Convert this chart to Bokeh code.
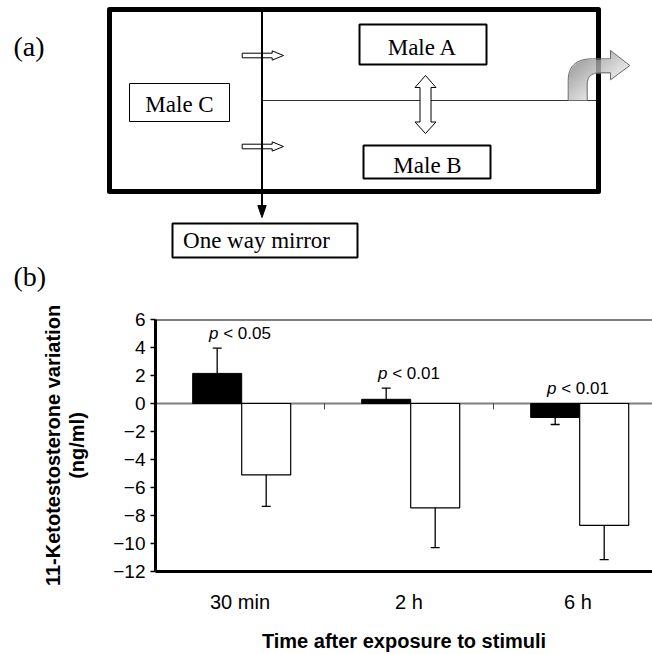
import numpy as np
from bokeh.plotting import figure
from bokeh.models import Range1d, FixedTicker, Span, ColumnDataSource, LinearAxis
from bokeh.core.properties import value
from bokeh.embed import file_html
from bokeh.resources import INLINE

# ---------------- data (panel b) ----------------
categories = ["30 min", "2 h", "6 h"]
dominant_mean = [2.15, 0.3, -1.0]        # black bars
dominant_err = [1.8, 0.8, 0.5]
subordinate_mean = [-5.1, -7.45, -8.7]   # white bars
subordinate_err = [2.25, 2.85, 2.45]
p_values = ["0.05", "0.01", "0.01"]
y_ticks = [-12, -10, -8, -6, -4, -2, 0, 2, 4, 6]

SANS = "Liberation Sans"
SERIF = "Liberation Serif"

# ---------------- panel (a): diagram ----------------
d = figure(width=652, height=300, x_range=Range1d(0, 652), y_range=Range1d(300, 0),
           output_backend="svg", toolbar_location=None, min_border=0,
           x_axis_type=None, y_axis_type=None)
d.outline_line_color = None
d.grid.visible = False

# horizontal partition
d.segment(x0=[262], y0=[100], x1=[598], y1=[100], line_color="#333333", line_width=1)

# small white arrows crossing the mirror
for yy in (55, 146):
    xs = [241.7, 271.7, 271.7, 283, 271.7, 271.7, 241.7]
    ys = [yy - 2.3, yy - 2.3, yy - 4.6, yy, yy + 4.6, yy + 2.3, yy + 2.3]
    d.patch(xs, ys, fill_color="white", line_color="black", line_width=1)

# one-way mirror line with arrow
d.segment(x0=[261.5], y0=[9], x1=[261.5], y1=[206], line_color="black", line_width=2)
d.patch([257.3, 265.7, 261.5], [205, 205, 217], fill_color="black", line_color="black")

# outer tank
d.quad(left=[109], right=[598], top=[9], bottom=[191], fill_color=None,
       line_color="black", line_width=5, line_join="round")

# boxes
d.quad(left=[359, 363, 172], right=[486, 490, 357], top=[24, 145, 223], bottom=[64, 178, 257],
       fill_color="white", line_color="black", line_width=2)
d.quad(left=[129], right=[229], top=[83], bottom=[121], fill_color="white",
       line_color="black", line_width=1)

d.text(x=[422, 427, 179, 256], y=[46.5, 165, 104, 239.5],
       text=["Male A", "Male B", "Male C", "One way mirror"],
       text_font=value(SERIF), text_font_size="23px", text_color="black",
       text_align="center", text_baseline="alphabetic")

# double arrow between A and B
cx = 425
d.patch([cx, cx + 10.5, cx + 5.5, cx + 5.5, cx + 10.5, cx, cx - 10.5, cx - 5.5, cx - 5.5, cx - 10.5],
        [75, 87, 87, 121.5, 121.5, 133, 121.5, 121.5, 87, 87],
        fill_color="white", line_color="black", line_width=1)

# curved outflow arrow (gradient-filled)
def qbez(p0, p1, p2, n=14):
    t = np.linspace(0, 1, n)
    x = (1 - t) ** 2 * p0[0] + 2 * (1 - t) * t * p1[0] + t ** 2 * p2[0]
    y = (1 - t) ** 2 * p0[1] + 2 * (1 - t) * t * p1[1] + t ** 2 * p2[1]
    return list(x), list(y)

ox, oy = qbez((567.7, 80), (567.7, 58.3), (592, 58.3))
ix, iy = qbez((599, 72.3), (586.7, 72.3), (586.7, 84))
cxs = [567.7] + ox + [610, 610, 629.3, 610, 610] + ix + [586.7]
cys = [100] + oy + [58.3, 50, 65, 79.3, 72.3] + iy + [100]

x0i, x1i, y0i, y1i = 566, 631, 49, 101
W, H = (x1i - x0i) * 2, (y1i - y0i) * 2
gx = x0i + (np.arange(W) + 0.5) * (x1i - x0i) / W
gy = y0i + (np.arange(H) + 0.5) * (y1i - y0i) / H
GX, GY = np.meshgrid(gx, gy)
inside = np.zeros(GX.shape, dtype=bool)
px, py = np.array(cxs), np.array(cys)
for k in range(len(px)):
    xa, ya, xb_, yb_ = px[k], py[k], px[k - 1], py[k - 1]
    cond = (ya > GY) != (yb_ > GY)
    xint = (xb_ - xa) * (GY - ya) / np.where(yb_ - ya == 0, 1e-9, yb_ - ya) + xa
    inside ^= cond & (GX < xint)
tt = np.clip(((GX - 567) / 62) * 0.7 + ((GY - 55) / 45) * 0.6, 0, 1)
gray = (115 + 130 * tt).astype(np.uint32)
alpha = np.where(inside, 200, 0).astype(np.uint32)
img = (alpha << 24) | (gray << 16) | (gray << 8) | gray
d.image_rgba(image=[img.astype(np.uint32)], x=x0i, y=y0i, dw=x1i - x0i, dh=y1i - y0i)
d.patch(cxs, cys, fill_color=None, line_color="#6a6a6a", line_width=1)

d.text(x=[13, 13], y=[46, 276], text=["(a)", "(b)"], text_font=value(SERIF),
       text_font_size="28px", text_color="black", text_align="left", text_baseline="alphabetic")

# ---------------- panel (b): bar chart ----------------
n = len(categories)
centers = [i + 0.5 for i in range(n)]
xb = [c - 0.135 for c in centers]
xw = [c + 0.155 for c in centers]
dom_end = [m + (e if m >= 0 else -e) for m, e in zip(dominant_mean, dominant_err)]
sub_end = [m - e for m, e in zip(subordinate_mean, subordinate_err)]
label_y = [max(0, de if m >= 0 else 0) + 1.05 for m, de in zip(dominant_mean, dom_end)]

src = ColumnDataSource(dict(xb=xb, xw=xw, dom=dominant_mean, sub=subordinate_mean,
                            dom_end=dom_end, sub_end=sub_end))

p = figure(width=652, height=354, x_range=Range1d(0, 497 / 169), y_range=Range1d(-12, 6),
           output_backend="svg", toolbar_location=None,
           min_border_left=155, min_border_right=0, min_border_top=19, min_border_bottom=81)
p.outline_line_color = None
p.xgrid.visible = False
p.ygrid.visible = False

p.add_layout(Span(location=0, dimension="width", line_color="#808080", line_width=2, level="underlay"))
p.add_layout(Span(location=6, dimension="width", line_color="black", line_width=2))

# category separator ticks on the zero line
seps = list(range(1, n))
p.segment(x0=seps, y0=[0] * len(seps), x1=seps, y1=[-0.42] * len(seps), line_color="#444444", line_width=1)

p.vbar(x="xb", top="dom", bottom=0, width=0.29, fill_color="black", line_color="black", source=src)
p.vbar(x="xw", top="sub", bottom=0, width=0.29, fill_color="white", line_color="black",
       line_width=1.2, source=src)

p.segment(x0="xb", y0="dom", x1="xb", y1="dom_end", line_color="black", line_width=1.3, source=src)
p.segment(x0="xw", y0="sub", x1="xw", y1="sub_end", line_color="black", line_width=1.3, source=src)
p.scatter(x="xb", y="dom_end", marker="dash", size=9, line_color="black", line_width=1.3, source=src)
p.scatter(x="xw", y="sub_end", marker="dash", size=9, line_color="black", line_width=1.3, source=src)

# p-value labels
anchor = [c - 0.1275 for c in centers]
p.text(x=anchor, y=label_y, text=["p"] * n, text_font=value(SANS), text_font_style="italic",
       text_font_size="17px", text_align="right", text_baseline="alphabetic", text_color="black")
p.text(x=anchor, y=label_y, text=["\u00a0< " + v for v in p_values], text_font=value(SANS),
       text_font_size="17px", text_align="left", text_baseline="alphabetic", text_color="black")

# axes
p.yaxis.ticker = FixedTicker(ticks=y_ticks)
p.yaxis.major_label_overrides = {t: ("\u2212" + str(abs(t)) if t < 0 else str(t)) for t in y_ticks}
p.yaxis.axis_line_width = 3
p.yaxis.major_tick_out = 5
p.yaxis.major_tick_in = 0
p.yaxis.major_tick_line_width = 1.5
p.yaxis.minor_tick_line_color = None
p.yaxis.major_label_standoff = 5
p.yaxis.major_label_text_font = SANS
p.yaxis.major_label_text_font_size = "19px"
p.yaxis.major_label_text_color = "black"
p.yaxis.axis_label = "(ng/ml)"
p.yaxis.axis_label_standoff = 22
p.yaxis.axis_label_text_font = SANS
p.yaxis.axis_label_text_font_size = "20px"
p.yaxis.axis_label_text_font_style = "bold"
p.yaxis.axis_label_text_color = "black"

y_title = LinearAxis(ticker=FixedTicker(ticks=[]), axis_line_color=None, major_tick_out=0,
                     major_tick_in=0, minor_tick_out=0, minor_tick_in=0,
                     axis_label="11-Ketotestosterone variation", axis_label_standoff=0,
                     axis_label_text_font=SANS, axis_label_text_font_size="20px",
                     axis_label_text_font_style="bold", axis_label_text_color="black")
p.add_layout(y_title, "left")

p.xaxis.ticker = FixedTicker(ticks=centers)
p.xaxis.major_label_overrides = {c: lab for c, lab in zip(centers, categories)}
p.xaxis.axis_line_width = 3
p.xaxis.major_tick_out = 0
p.xaxis.major_tick_in = 0
p.xaxis.minor_tick_line_color = None
p.xaxis.major_label_standoff = 19
p.xaxis.major_label_text_font = SANS
p.xaxis.major_label_text_font_size = "20px"
p.xaxis.major_label_text_color = "black"
p.xaxis.axis_label = "Time after exposure to stimuli"
p.xaxis.axis_label_standoff = 14
p.xaxis.axis_label_text_font = SANS
p.xaxis.axis_label_text_font_size = "20px"
p.xaxis.axis_label_text_font_style = "bold"
p.xaxis.axis_label_text_color = "black"

open("out.html", "w").write(file_html([d, p], INLINE))
